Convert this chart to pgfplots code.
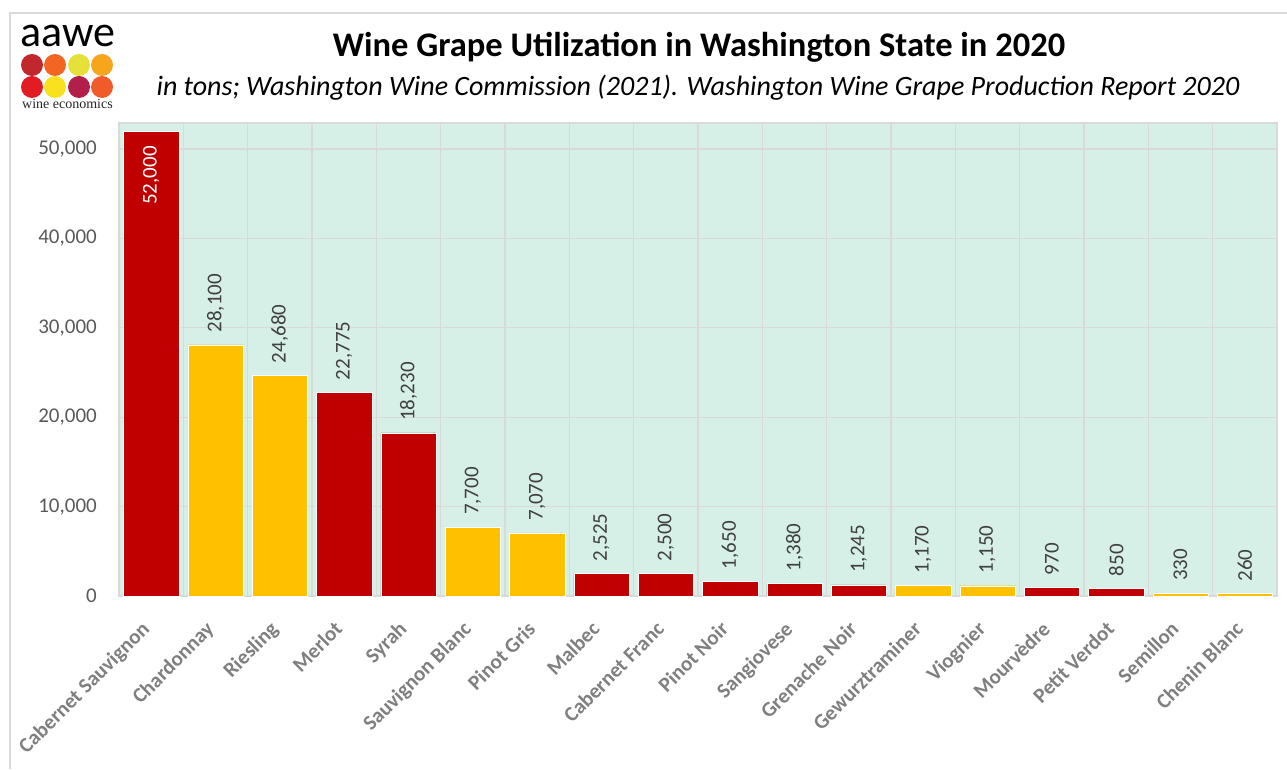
\documentclass[border=0pt]{standalone}
\usepackage{pgfplots}
\pgfplotsset{compat=1.18}
\usepackage{fontspec}
\setmainfont{Carlito}
\newfontfamily\serifl{Liberation Serif}
\definecolor{barred}{HTML}{C00000}
\definecolor{baryel}{HTML}{FFC000}
\definecolor{mint}{HTML}{D6F0E8}
\definecolor{gridc}{HTML}{D9D9D9}
\definecolor{labc}{HTML}{404040}
\definecolor{ytc}{HTML}{595959}
\definecolor{xtc}{HTML}{7F7F7F}
\definecolor{c1}{HTML}{C1272D}
\definecolor{c2}{HTML}{F26522}
\definecolor{c3}{HTML}{E6E03A}
\definecolor{c4}{HTML}{F7A51D}
\definecolor{c5}{HTML}{E31B23}
\definecolor{c6}{HTML}{F9E11E}
\definecolor{c7}{HTML}{B21F4A}
\definecolor{c8}{HTML}{F15A29}
\begin{document}
\begin{tikzpicture}[x=1pt,y=1pt]
\useasboundingbox (0,0) rectangle (1287,769);
% frame
\draw[gridc, line width=1.5pt] (10,0) -- (10,756) -- (1287,756);
% logo
\node[anchor=base west, inner sep=0pt, text=black] at (20,722) {\fontsize{44}{44}\selectfont aawe};
\fill[c1] (32,704) circle (11);
\fill[c2] (55,704) circle (11);
\fill[c3] (79,704) circle (11);
\fill[c4] (102,704) circle (11);
\fill[c5] (32,682) circle (11);
\fill[c6] (55,682) circle (11);
\fill[c7] (79,682) circle (11);
\fill[c8] (102,682) circle (11);
\node[anchor=base west, inner sep=0pt, text=black!85] at (22,660) {\serifl\fontsize{14}{14}\selectfont wine economics};
% titles
\node[text=black] at (699,722) {\fontsize{34.5}{40}\selectfont\bfseries Wine Grape Utilization in Washington State in 2020};
\node[text=black] at (698,681) {\fontsize{28}{32}\selectfont\itshape in tons; Washington Wine Commission (2021). Washington Wine Grape Production Report 2020};
\begin{axis}[
  at={(119pt,173pt)}, anchor=south west,
  scale only axis, width=1158pt, height=473pt,
  xmin=-0.5, xmax=17.5, ymin=0, ymax=52900,
  ybar, bar width=0.86,
  /pgf/number format/assume math mode=true,
  /pgf/number format/.cd, fixed, 1000 sep={,}, /pgfplots/.cd,
  axis background/.style={fill=mint},
  axis line style={gridc, line width=1.2pt},
  ytick={0,10000,...,50000},
  ymajorgrids, major grid style={gridc, line width=1.2pt},
  xtick={0,...,17},
  xticklabels={Cabernet Sauvignon, Chardonnay, Riesling, Merlot, Syrah, Sauvignon Blanc, Pinot Gris, Malbec, Cabernet Franc, Pinot Noir, Sangiovese, Grenache Noir, Gewurztraminer, Viognier, Mourvèdre, Petit Verdot, Semillon, Chenin Blanc},
  minor xtick={0.5,1.5,...,16.5},
  xminorgrids, minor grid style={gridc, line width=1.2pt},
  major tick length=0pt, minor tick length=0pt,
  scaled y ticks=false,
  yticklabel style={text=ytc, font=\fontsize{21}{24}\selectfont, inner sep=0pt, anchor=east, xshift=-22pt},
  xticklabel style={text=xtc, font=\fontsize{21}{24}\selectfont\bfseries, yshift=-24pt, xshift=-11pt, rotate=45, anchor=north east, inner sep=0pt},
  nodes near coords,
]
\addplot[fill=barred, draw=white, line width=0.4pt, bar shift=0pt,
  every node near coord/.style={rotate=90, anchor=west, inner xsep=12pt, inner ysep=0pt, text=labc, font=\fontsize{21}{24}\selectfont}] coordinates {
(3,22775) (4,18230) (7,2525) (8,2500) (9,1650) (10,1380) (11,1245) (14,970) (15,850)};
\addplot[fill=baryel, draw=white, line width=0.4pt, bar shift=0pt,
  every node near coord/.style={rotate=90, anchor=west, inner xsep=12pt, inner ysep=0pt, text=labc, font=\fontsize{21}{24}\selectfont}] coordinates {
(1,28100) (2,24680) (5,7700) (6,7070) (12,1170) (13,1150) (16,330) (17,260)};
\addplot[fill=barred, draw=white, line width=0.4pt, bar shift=0pt,
  every node near coord/.style={rotate=90, anchor=east, inner xsep=15pt, inner ysep=0pt, text=white, font=\fontsize{21}{24}\selectfont}] coordinates {
(0,52000)};
\end{axis}
\end{tikzpicture}
\end{document}
